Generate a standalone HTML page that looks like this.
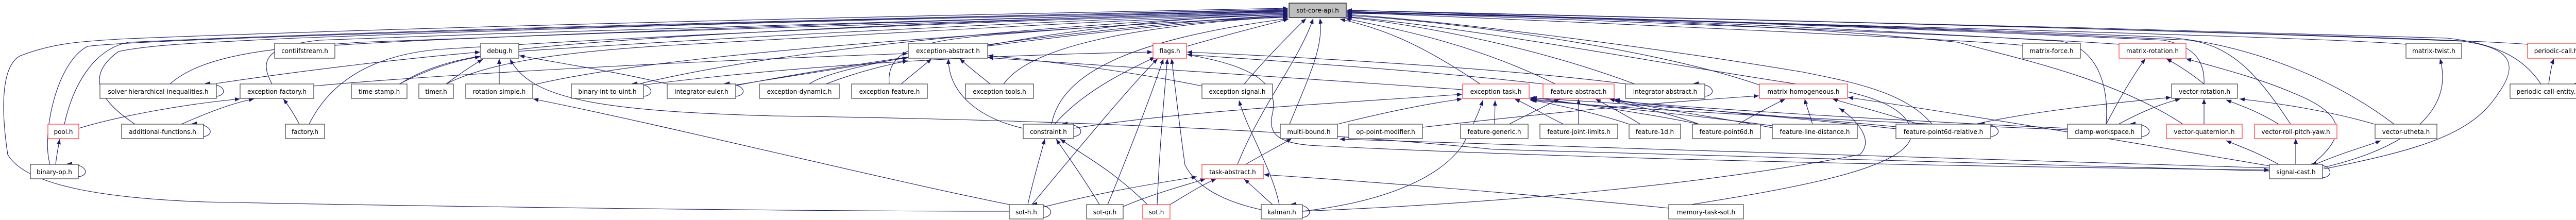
<!DOCTYPE html>
<html><head><meta charset="utf-8"><style>
html,body{margin:0;padding:0;background:#fff;}
svg{display:block;}
text{font-family:"DejaVu Sans","Liberation Sans",sans-serif;font-size:12px;fill:#000;text-anchor:middle;}
.e{fill:none;stroke:#191970;stroke-width:1.1;marker-end:url(#a);}
.n{fill:#fff;stroke:#404040;stroke-width:1.2;}
.r{fill:#fff;stroke:#ff3030;stroke-width:1.2;}
</style></head><body>
<svg width="5048" height="427" viewBox="0 0 5048 427" xmlns="http://www.w3.org/2000/svg">
<defs><marker id="a" markerUnits="userSpaceOnUse" markerWidth="11" markerHeight="8" refX="10" refY="4" orient="auto"><path d="M0,0 L10,4 L0,8 z" fill="#191970"/></marker></defs>
<g>
<!-- edges to sot-core-api left side -->
<path class="e" d="M650,88 C900,70 2200,26 2500,22"/>
<path class="e" d="M1007,96 C1300,62 2200,28 2500,24"/>
<path class="e" d="M1917,88 C2100,55 2300,32 2500,28"/>
<path class="e" d="M330,163 C400,100 560,92 700,82 C1400,55 2300,26 2500,22"/>
<path class="e" d="M528,163 C505,120 510,90 620,78 C1400,48 2300,24 2500,20"/>
<path class="e" d="M776,163 C830,128 900,110 1000,100 C1600,60 2300,30 2500,26"/>
<path class="e" d="M866,163 C950,120 1100,100 1300,88 C1800,60 2300,32 2500,28"/>
<path class="e" d="M1034,165 C1300,100 2000,60 2500,30"/>
<path class="e" d="M1240,163 C1600,75 2300,34 2500,28"/>
<path class="e" d="M1428,166 C1800,95 2300,40 2500,32"/>
<path class="e" d="M1571,163 C1650,105 2300,36 2500,30"/>
<path class="e" d="M1726,163 C1720,100 1780,82 1900,70 C2200,45 2400,36 2500,34"/>
<path class="e" d="M1948,163 C2000,90 2200,50 2500,32"/>
<path class="e" d="M125,241 C140,170 180,95 250,82 C900,52 2300,22 2500,20"/>
<path class="e" d="M262,241 C200,200 160,150 230,100 C300,85 420,82 550,75 C1300,45 2300,24 2500,22"/>
<path class="e" d="M600,241 C650,140 750,105 850,96 C1500,55 2300,28 2500,26"/>
<path class="e" d="M97,319 C80,260 110,120 170,90 C300,70 2300,22 2500,18"/>
<path class="e" d="M1959,410 C1500,410 800,400 400,392 C200,385 50,360 15,300 C0,200 5,125 40,108 C100,85 150,80 250,75 C1000,45 2300,20 2500,16"/>
<path class="e" d="M2303,90 C2400,62 2470,45 2501,37"/>
<path class="e" d="M2415,163 C2460,110 2510,60 2535,36"/>
<path class="e" d="M2041,241 C2060,140 2200,75 2500,36"/>
<path class="e" d="M2402,319 C2450,200 2520,120 2549,36"/>
<path class="e" d="M2503,241 C2540,150 2570,90 2562,36"/>
<!-- edges to sot-core-api right side -->
<path class="e" d="M2873,163 C2750,80 2680,55 2601,37"/>
<path class="e" d="M3019,163 C2850,80 2700,55 2612,36"/>
<path class="e" d="M3173,163 C2950,80 2720,45 2614,33"/>
<path class="e" d="M3415,165 C3200,90 2800,40 2614,30"/>
<path class="e" d="M3750,241 C3700,180 3600,160 3500,140 C3200,90 2800,40 2614,28"/>
<path class="e" d="M3926,88 C3800,75 3000,40 2614,24"/>
<path class="e" d="M4113,86 C3900,70 3000,36 2614,22"/>
<path class="e" d="M4088,241 C4095,150 4060,90 4000,80 C3500,50 3000,30 2614,20"/>
<path class="e" d="M4237,241 C4100,150 3900,110 3800,82 C3500,50 3000,30 2614,24"/>
<path class="e" d="M4278,163 C4280,120 4260,90 4200,78 C3600,50 3000,30 2614,24"/>
<path class="e" d="M4446,241 C4380,140 4330,90 4250,78 C3600,48 3000,30 2614,24"/>
<path class="e" d="M4647,241 C4500,130 4320,80 4200,72 C3500,45 3000,30 2614,26"/>
<path class="e" d="M4670,86 C4500,70 3200,40 2614,22"/>
<path class="e" d="M4906,86 C4700,70 3300,35 2614,20"/>
<path class="e" d="M4932,163 C4900,115 4850,85 4750,74 C4000,50 3000,30 2614,20"/>
<path class="e" d="M4510,328 C4700,290 4800,260 4850,180 C4900,110 4850,90 4780,80 C4000,50 3000,30 2614,20"/>
<path class="e" d="M3239,404 C3450,370 3720,330 3710,255 C3700,200 3600,175 3500,165 C3200,120 2900,60 2614,32"/>
<!-- left cluster -->
<path class="e" d="M153,249 C250,220 380,200 466,192"/>
<path class="e" d="M352,241 C400,220 450,200 493,192"/>
<path class="e" d="M581,241 C570,220 560,205 550,192"/>
<path class="e" d="M108,319 C110,300 113,285 116,270"/>
<path class="e" d="M609,167 C900,140 1500,112 1762,104"/>
<path class="e" d="M420,162 C600,135 800,112 932,101"/>
<path class="e" d="M775,163 C820,140 870,120 932,110"/>
<path class="e" d="M866,163 C890,145 915,128 937,115"/>
<path class="e" d="M969,163 L969,114"/>
<path class="e" d="M1295,163 C1200,140 1100,125 1008,108"/>
<path class="e" d="M4405,332 C4000,320 3500,310 2900,290 C2500,250 2000,232 1500,225 C1150,215 1030,190 990,115"/>
<path class="e" d="M1959,397 C1700,345 1300,245 1035,192"/>
<path class="e" d="M1249,165 C1600,120 2000,105 2237,101"/>
<path class="e" d="M1428,165 C1550,145 1680,125 1762,112"/>
<path class="e" d="M1603,163 C1650,145 1700,130 1762,118"/>
<path class="e" d="M1749,163 C1770,145 1790,130 1808,114"/>
<path class="e" d="M1922,163 C1900,145 1880,130 1863,114"/>
<path class="e" d="M1986,249 C1900,230 1840,180 1841,114"/>
<path class="e" d="M2047,241 C2100,180 2180,140 2242,111"/>
<path class="e" d="M2084,249 C2300,215 2600,200 2838,183"/>
<path class="e" d="M2333,167 C2200,140 2050,120 1918,108"/>
<path class="e" d="M2839,174 C2500,150 2100,125 1918,112"/>
<path class="e" d="M2995,163 C2800,140 2500,120 2304,106"/>
<path class="e" d="M3157,163 C2900,130 2500,110 2304,101"/>
<path class="e" d="M1995,397 C2005,350 2020,300 2028,270"/>
<path class="e" d="M2003,397 C2100,280 2200,160 2247,114"/>
<path class="e" d="M2025,402 C2150,370 2250,355 2323,343"/>
<path class="e" d="M2134,397 C2100,340 2070,300 2050,270"/>
<path class="e" d="M2150,397 C2190,300 2240,170 2258,114"/>
<path class="e" d="M2180,401 C2240,375 2300,360 2340,347"/>
<path class="e" d="M2227,397 C2160,330 2100,300 2058,270"/>
<path class="e" d="M2246,397 C2250,300 2260,180 2266,114"/>
<path class="e" d="M2271,397 C2300,380 2330,360 2361,347"/>
<path class="e" d="M2448,407 C2370,390 2320,360 2300,320 C2290,250 2280,160 2274,114"/>
<path class="e" d="M2483,397 C2470,330 2420,250 2405,195"/>
<path class="e" d="M2470,397 C2450,380 2430,360 2415,348"/>
<path class="e" d="M2418,319 C2450,300 2480,285 2507,269"/>
<path class="e" d="M3239,404 C3000,380 2700,355 2453,339"/>
<path class="e" d="M2528,410 C2700,390 2800,340 2840,280 C2860,240 2870,220 2878,195"/>
<path class="e" d="M2596,241 C2700,215 2780,200 2838,192"/>
<path class="e" d="M2303,106 C2450,130 2480,170 2470,220 C2460,260 2480,280 2560,283 C2900,300 3500,320 4405,330"/>
<path class="e" d="M4405,326 C3900,310 3200,290 2600,270"/>
<path class="e" d="M2761,247 C3000,220 3200,200 3414,186"/>
<path class="e" d="M2528,410 C2900,395 3300,360 3610,300 C3640,270 3600,230 3570,210"/>
<!-- feature cluster -->
<path class="e" d="M2901,241 L2902,195"/>
<path class="e" d="M2929,241 C2970,220 3000,205 3027,192"/>
<path class="e" d="M3035,241 C3000,225 2970,205 2940,192"/>
<path class="e" d="M3064,241 L3064,192"/>
<path class="e" d="M3162,241 C3100,220 3030,205 2973,194"/>
<path class="e" d="M3184,241 C3150,220 3120,205 3097,192"/>
<path class="e" d="M3298,241 C3200,220 3050,200 2973,189"/>
<path class="e" d="M3298,241 C3240,220 3170,205 3124,192"/>
<path class="e" d="M3374,241 C3400,225 3440,205 3465,192"/>
<path class="e" d="M3518,241 C3512,220 3506,205 3503,192"/>
<path class="e" d="M3440,244 C3300,225 3100,205 2969,192"/>
<path class="e" d="M3440,248 C3350,230 3200,210 3134,192"/>
<path class="e" d="M3680,246 C3400,220 3150,200 2969,190"/>
<path class="e" d="M3680,250 C3500,230 3250,210 3134,194"/>
<path class="e" d="M3724,241 C3660,220 3600,205 3557,192"/>
<path class="e" d="M4013,249 C3600,230 3300,210 3134,196"/>
<path class="e" d="M4013,252 C3600,235 3200,215 2969,194"/>
<path class="e" d="M4405,322 C4100,270 3800,220 3587,189"/>
<!-- right cluster -->
<path class="e" d="M4278,163 C4250,140 4225,125 4205,114"/>
<path class="e" d="M4088,241 C4120,180 4145,140 4164,114"/>
<path class="e" d="M4112,241 C4160,215 4200,200 4232,192"/>
<path class="e" d="M3834,241 C3950,215 4100,200 4214,189"/>
<path class="e" d="M4489,318 C4560,260 4550,220 4450,180 C4380,150 4300,130 4243,114"/>
<path class="e" d="M4278,241 L4278,192"/>
<path class="e" d="M4423,241 C4380,215 4350,205 4321,194"/>
<path class="e" d="M4609,241 C4520,215 4420,200 4347,192"/>
<path class="e" d="M4423,319 C4380,295 4350,285 4321,273"/>
<path class="e" d="M4456,319 L4456,269"/>
<path class="e" d="M4494,319 C4550,295 4590,285 4621,273"/>
<path class="e" d="M4510,325 C4700,280 4760,200 4736,114"/>
<path class="e" d="M4947,163 C4950,140 4953,125 4957,114"/>
<!-- self loops -->
<path class="e" d="M420,187 C442,185 440,162 398,162"/>
<path class="e" d="M395,265 C416,263 414,240 372,240"/>
<path class="e" d="M152,343 C174,341 172,318 130,318"/>
<path class="e" d="M1249,187 C1272,185 1270,162 1227,162"/>
<path class="e" d="M1428,187 C1451,185 1449,162 1406,162"/>
<path class="e" d="M2084,265 C2106,263 2104,240 2062,240"/>
<path class="e" d="M2025,422 C2048,420 2046,396 2003,396"/>
<path class="e" d="M2528,422 C2550,420 2548,396 2506,396"/>
<path class="e" d="M3309,187 C3332,185 3330,162 3287,162"/>
<path class="e" d="M3864,265 C3887,263 3885,240 3842,240"/>
<path class="e" d="M4157,265 C4180,263 4178,240 4135,240"/>
<path class="e" d="M4508,345 C4531,343 4529,318 4486,318"/>
<path class="e" d="M5019,187 C5042,185 5040,162 4997,162"/>
</g>
<g>
<rect x="2502" y="6" width="111" height="28" fill="#bfbfbf" stroke="#000" stroke-width="1.2"/><text x="2557.5" y="24.5">sot-core-api.h</text>
<rect class="n" x="533" y="84" width="117" height="29"/><text x="591.5" y="103">contiifstream.h</text>
<rect class="n" x="933" y="84" width="74" height="29"/><text x="970" y="103">debug.h</text>
<rect class="n" x="1763" y="84" width="154" height="29"/><text x="1840" y="103">exception-abstract.h</text>
<rect class="r" x="2238" y="84" width="65" height="29"/><text x="2270.5" y="103">flags.h</text>
<rect class="n" x="3926" y="84" width="112" height="29"/><text x="3982" y="103">matrix-force.h</text>
<rect class="r" x="4113" y="84" width="130" height="29"/><text x="4178" y="103">matrix-rotation.h</text>
<rect class="n" x="4670" y="84" width="108" height="29"/><text x="4724" y="103">matrix-twist.h</text>
<rect class="r" x="4906" y="84" width="110" height="29"/><text x="4961" y="103">periodic-call.h</text>
<rect class="n" x="194" y="163" width="226" height="28"/><text x="307" y="182">solver-hierarchical-inequalities.h</text>
<rect class="n" x="466" y="163" width="143" height="28"/><text x="537.5" y="182">exception-factory.h</text>
<rect class="n" x="682" y="163" width="108" height="28"/><text x="736" y="182">time-stamp.h</text>
<rect class="n" x="813" y="163" width="67" height="28"/><text x="846.5" y="182">timer.h</text>
<rect class="n" x="904" y="163" width="130" height="28"/><text x="969" y="182">rotation-simple.h</text>
<rect class="n" x="1109" y="163" width="140" height="28"/><text x="1179" y="182">binary-int-to-uint.h</text>
<rect class="n" x="1295" y="163" width="133" height="28"/><text x="1361.5" y="182">integrator-euler.h</text>
<rect class="n" x="1474" y="163" width="155" height="28"/><text x="1551.5" y="182">exception-dynamic.h</text>
<rect class="n" x="1653" y="163" width="147" height="28"/><text x="1726.5" y="182">exception-feature.h</text>
<rect class="n" x="1874" y="163" width="132" height="28"/><text x="1940" y="182">exception-tools.h</text>
<rect class="n" x="2333" y="163" width="137" height="28"/><text x="2401.5" y="182">exception-signal.h</text>
<rect class="r" x="2839" y="163" width="129" height="28"/><text x="2903.5" y="182">exception-task.h</text>
<rect class="r" x="2995" y="163" width="138" height="28"/><text x="3064" y="182">feature-abstract.h</text>
<rect class="n" x="3155" y="163" width="154" height="28"/><text x="3232" y="182">integrator-abstract.h</text>
<rect class="r" x="3415" y="163" width="171" height="28"/><text x="3500.5" y="182">matrix-homogeneous.h</text>
<rect class="n" x="4215" y="163" width="128" height="28"/><text x="4279" y="182">vector-rotation.h</text>
<rect class="n" x="4872" y="163" width="147" height="28"/><text x="4945.5" y="182">periodic-call-entity.h</text>
<rect class="r" x="93" y="241" width="60" height="28"/><text x="123" y="260">pool.h</text>
<rect class="n" x="236" y="241" width="159" height="28"/><text x="315.5" y="260">additional-functions.h</text>
<rect class="n" x="554" y="241" width="76" height="28"/><text x="592" y="260">factory.h</text>
<rect class="n" x="1986" y="241" width="98" height="28"/><text x="2035" y="260">constraint.h</text>
<rect class="n" x="2485" y="241" width="111" height="28"/><text x="2540.5" y="260">multi-bound.h</text>
<rect class="n" x="2618" y="241" width="143" height="28"/><text x="2689.5" y="260">op-point-modifier.h</text>
<rect class="n" x="2835" y="241" width="131" height="28"/><text x="2900.5" y="260">feature-generic.h</text>
<rect class="n" x="2989" y="241" width="151" height="28"/><text x="3064.5" y="260">feature-joint-limits.h</text>
<rect class="n" x="3162" y="241" width="100" height="28"/><text x="3212" y="260">feature-1d.h</text>
<rect class="n" x="3285" y="241" width="132" height="28"/><text x="3351" y="260">feature-point6d.h</text>
<rect class="n" x="3440" y="241" width="165" height="28"/><text x="3522.5" y="260">feature-line-distance.h</text>
<rect class="n" x="3680" y="241" width="184" height="28"/><text x="3772" y="260">feature-point6d-relative.h</text>
<rect class="n" x="4013" y="241" width="144" height="28"/><text x="4085" y="260">clamp-workspace.h</text>
<rect class="r" x="4205" y="241" width="147" height="28"/><text x="4278.5" y="260">vector-quaternion.h</text>
<rect class="r" x="4376" y="241" width="160" height="28"/><text x="4456" y="260">vector-roll-pitch-yaw.h</text>
<rect class="n" x="4610" y="241" width="120" height="28"/><text x="4670" y="260">vector-utheta.h</text>
<rect class="n" x="59" y="319" width="93" height="28"/><text x="105.5" y="338">binary-op.h</text>
<rect class="r" x="2333" y="319" width="119" height="28"/><text x="2392.5" y="338">task-abstract.h</text>
<rect class="n" x="4405" y="319" width="103" height="28"/><text x="4456.5" y="338">signal-cast.h</text>
<rect class="n" x="1959" y="397" width="66" height="28"/><text x="1992" y="416">sot-h.h</text>
<rect class="n" x="2109" y="397" width="71" height="28"/><text x="2144.5" y="416">sot-qr.h</text>
<rect class="r" x="2218" y="397" width="53" height="28"/><text x="2244.5" y="416">sot.h</text>
<rect class="n" x="2448" y="397" width="80" height="28"/><text x="2488" y="416">kalman.h</text>
<rect class="n" x="3239" y="397" width="145" height="28"/><text x="3311.5" y="416">memory-task-sot.h</text>
</g>
</svg>
</body></html>
